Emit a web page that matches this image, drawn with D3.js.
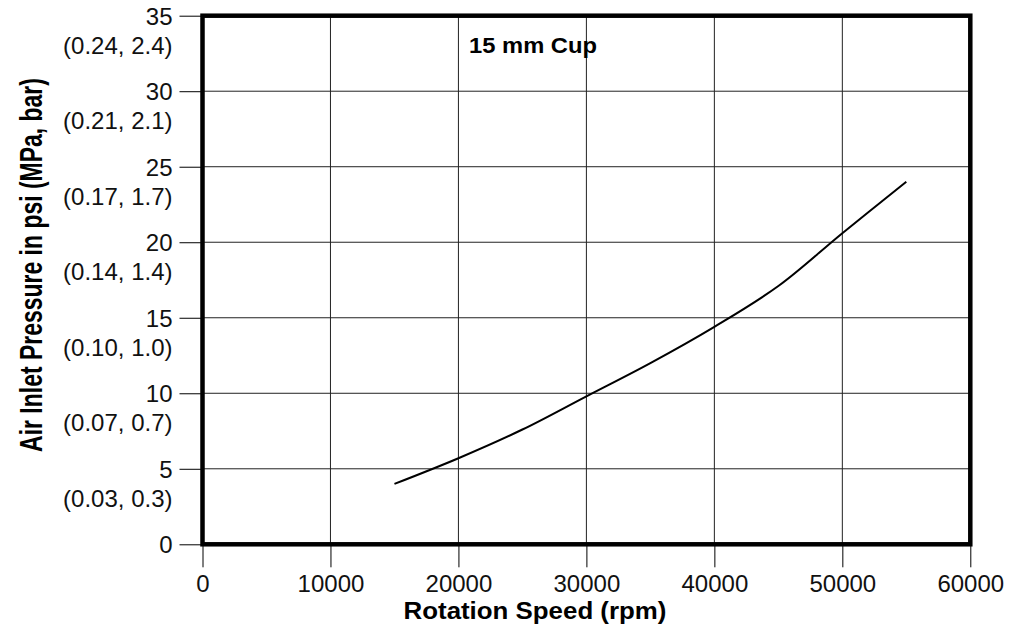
<!DOCTYPE html>
<html><head><meta charset="utf-8">
<script src="https://cdn.jsdelivr.net/npm/d3@7"></script>
<style>body{margin:0;background:#fff} svg{display:block}</style>
</head><body><div id="chart"></div>
<script>
// ---- data ----
const xTickValues = [0, 10000, 20000, 30000, 40000, 50000, 60000];
const yTickValues = [0, 5, 10, 15, 20, 25, 30, 35];
const yTickSubLabels = ["", "(0.03, 0.3)", "(0.07, 0.7)", "(0.10, 1.0)", "(0.14, 1.4)", "(0.17, 1.7)", "(0.21, 2.1)", "(0.24, 2.4)"];
const speeds = [15000, 20000, 25000, 30000, 35000, 40000, 45000, 50000, 55000];
const pressures = [4.0, 5.7, 7.6, 9.8, 12.0, 14.4, 17.1, 20.6, 24.0];
const chartLabel = "15 mm Cup";
const xTitle = "Rotation Speed (rpm)";
const yTitle = "Air Inlet Pressure in psi (MPa, bar)";

// ---- layout ----
const W = 1016, H = 630;
const L = 202.5, R = 970.3, T = 15.7, B = 544.3;
const FONT = "'Liberation Sans', Arial, Helvetica, sans-serif";
const TICKFS = "24px";

const svg = d3.select("#chart").append("svg")
  .attr("width", W).attr("height", H)
  .style("font-family", FONT);

const x = d3.scaleLinear().domain([0, 60000]).range([L, R]);
const y = d3.scaleLinear().domain([0, 35]).range([B, T]);

// grid
const grid = svg.append("g").attr("stroke", "#222").attr("stroke-width", 1);
grid.selectAll("line.v").data(xTickValues).join("line").attr("class", "v")
  .attr("x1", d => x(d)).attr("x2", d => x(d)).attr("y1", T).attr("y2", B);
grid.selectAll("line.h").data(yTickValues).join("line").attr("class", "h")
  .attr("x1", L).attr("x2", R).attr("y1", d => y(d)).attr("y2", d => y(d));

// y axis
const yAxis = svg.append("g").attr("transform", `translate(${L},0)`)
  .call(d3.axisLeft(y).tickValues(yTickValues).tickSize(23).tickFormat(d3.format("d")));
yAxis.select(".domain").remove();
yAxis.selectAll(".tick line").attr("stroke", "#000");
yAxis.selectAll(".tick text")
  .attr("x", -30).attr("dy", null).attr("y", 8.5)
  .attr("fill", "#111").style("font-size", TICKFS).style("font-family", FONT);
yAxis.selectAll(".tick").each(function(d) {
  const lbl = yTickSubLabels[yTickValues.indexOf(d)];
  if (lbl) d3.select(this).append("text")
    .attr("x", -30).attr("y", 37.5).attr("text-anchor", "end")
    .attr("fill", "#111").style("font-size", TICKFS).style("font-family", FONT)
    .text(lbl);
});

// x axis
const xAxis = svg.append("g").attr("transform", `translate(0,${B})`)
  .call(d3.axisBottom(x).tickValues(xTickValues).tickSize(23).tickFormat(d3.format("d")));
xAxis.select(".domain").remove();
xAxis.selectAll(".tick line").attr("stroke", "#000");
xAxis.selectAll(".tick text")
  .attr("dy", null).attr("y", 48.2)
  .attr("fill", "#111").style("font-size", TICKFS).style("font-family", FONT);

// border
svg.append("rect").attr("x", L).attr("y", T).attr("width", R - L).attr("height", B - T)
  .attr("fill", "none").attr("stroke", "#000").attr("stroke-width", 4.5);

// curve
const pts = speeds.map((s, i) => [s, pressures[i]]);
svg.append("path").datum(pts)
  .attr("fill", "none").attr("stroke", "#000").attr("stroke-width", 2)
  .attr("d", d3.line().x(d => x(d[0])).y(d => y(d[1])).curve(d3.curveCatmullRom.alpha(0.5)));

// labels
function fitText(sel, targetLen, rot, cx, cy) {
  const natural = sel.node().getComputedTextLength();
  const s = targetLen / natural;
  sel.attr("transform", `translate(${cx},${cy}) rotate(${rot}) scale(${s},1)`);
}
const cup = svg.append("text").attr("text-anchor", "middle")
  .style("font-size", "22px").style("font-weight", "bold").attr("fill", "#000")
  .text(chartLabel);
fitText(cup, 128, 0, 533, 53);
const xt = svg.append("text").attr("text-anchor", "middle")
  .style("font-size", "23.5px").style("font-weight", "bold").attr("fill", "#000")
  .text(xTitle);
fitText(xt, 263, 0, 535, 619);
const yt = svg.append("text").attr("text-anchor", "middle")
  .style("font-size", "32px").style("font-weight", "bold").attr("fill", "#000")
  .text(yTitle);
fitText(yt, 374, -90, 41.5, 265);
</script></body></html>
